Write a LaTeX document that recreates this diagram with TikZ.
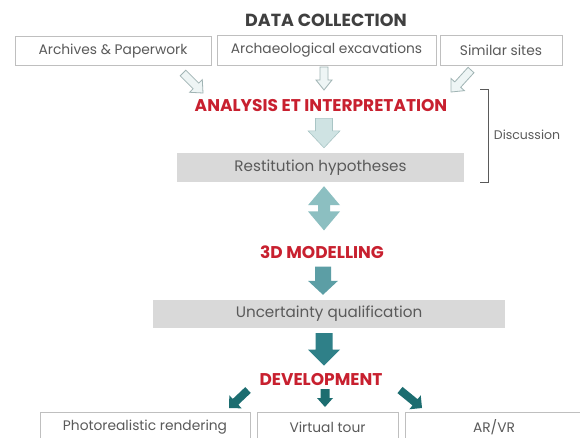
\documentclass[tikz,border=0pt]{standalone}
\usepackage{fontspec}
\setmainfont{Poppins}
\usetikzlibrary{calc}
\definecolor{boxline}{HTML}{BFBFBF}
\definecolor{boxtext}{HTML}{5A5A5A}
\definecolor{titletext}{HTML}{404040}
\definecolor{headred}{HTML}{C8202F}
\definecolor{grayfill}{HTML}{D9D9D9}
\definecolor{hollowfill}{HTML}{EEF5F5}
\definecolor{hollowline}{HTML}{A0B4B4}
\definecolor{tealA}{HTML}{CFE3E3}
\definecolor{tealAline}{HTML}{A9C5C5}
\definecolor{tealB}{HTML}{8CBFC1}
\definecolor{tealC}{HTML}{5C9EA5}
\definecolor{tealD}{HTML}{2F8088}
\definecolor{tealE}{HTML}{1C6D70}
\newcommand\blockarrow[6]{% style, from, to, shaft half width, head half width, head length
  \path ($(#3)!#6!(#2)$) coordinate (ba-n);
  \draw[#1] ($(#2)!#4!90:(#3)$) -- ($(ba-n)!#4!90:(#3)$) -- ($(ba-n)!#5!90:(#3)$)
    -- (#3) -- ($(ba-n)!#5!-90:(#3)$) -- ($(ba-n)!#4!-90:(#3)$) -- ($(#2)!#4!-90:(#3)$) -- cycle;
}
\newcommand\doublearrow[6]{% style, end a, end b, shaft half width, head half width, head length
  \path ($(#3)!#6!(#2)$) coordinate (da-n);
  \path ($(#2)!#6!(#3)$) coordinate (da-m);
  \draw[#1] (#2) -- ($(da-m)!#5!90:(#3)$) -- ($(da-m)!#4!90:(#3)$) -- ($(da-n)!#4!90:(#3)$) -- ($(da-n)!#5!90:(#3)$)
    -- (#3) -- ($(da-n)!#5!-90:(#3)$) -- ($(da-n)!#4!-90:(#3)$) -- ($(da-m)!#4!-90:(#3)$) -- ($(da-m)!#5!-90:(#3)$) -- cycle;
}
\begin{document}
\begin{tikzpicture}[x=1pt,y=-1pt,
  srcbox/.style={draw=boxline, line width=0.8pt, text=boxtext, font=\fontsize{13.8}{15}\selectfont, inner sep=0pt},
  graybox/.style={fill=grayfill, text=boxtext, font=\fontsize{15.2}{17}\selectfont, inner sep=0pt},
  heading/.style={text=headred, font=\bfseries\fontsize{17}{19}\selectfont, inner sep=0pt},
  hollow/.style={fill=hollowfill, draw=hollowline, line width=0.8pt, line join=miter},
  darkarrow/.style={fill=tealE, draw=none}]
\useasboundingbox (0,0) rectangle (580,437);
\fill[white] (0,0) rectangle (580,437);
% title
\node[text=titletext, font=\bfseries\fontsize{17.5}{19}\selectfont, inner sep=0pt] (title) at (326,20) {DATA COLLECTION};
% sources
\node[srcbox, minimum width=196pt, minimum height=29pt] (src1) at (113,51) {Archives \& Paperwork};
\node[srcbox, minimum width=219pt, minimum height=30pt] (src2) at (326.5,50) {Archaeological excavations};
\node[srcbox, minimum width=122pt, minimum height=30pt] (src3) at (501,50) {Similar sites};
% analysis
\node[heading] (ana) at (321,106) {ANALYSIS ET INTERPRETATION};
\node[graybox, minimum width=287pt, minimum height=29pt] (rest) at (320.5,167.5) {Restitution hypotheses};
% discussion bracket
\node[text=boxtext, font=\fontsize{12.5}{14}\selectfont, inner sep=0pt] (disc) at (527,135) {Discussion};
\draw[boxtext, line width=0.8pt] (480,89) -- (488,89) -- (488,182) -- (480,182);
% modelling
\node[heading] (mod) at (322,252) {3D MODELLING};
\node[graybox, minimum width=352pt, minimum height=28pt] (unc) at (329,314) {Uncertainty qualification};
\node[heading] (dev) at (321,379) {DEVELOPMENT};
% outputs
\node[srcbox, minimum width=210pt, minimum height=30pt] (out1) at (145,427) {Photorealistic rendering};
\node[srcbox, minimum width=141pt, minimum height=30pt] (out2) at (327.5,427) {Virtual tour};
\node[srcbox, minimum width=178pt, minimum height=30pt, text width=178pt, align=center] (out3) at (494,427) {AR/VR};
% hollow arrows from sources
\coordinate (h1a) at (183,73); \coordinate (h1b) at (203,93);
\coordinate (h2a) at (324,67); \coordinate (h2b) at (324,90);
\coordinate (h3a) at (471,70); \coordinate (h3b) at (451,92);
\blockarrow{hollow}{h1a}{h1b}{4pt}{9pt}{10pt}
\blockarrow{hollow}{h2a}{h2b}{4pt}{8pt}{10pt}
\blockarrow{hollow}{h3a}{h3b}{4pt}{9pt}{10pt}
% main flow arrows
\blockarrow{fill=tealA, draw=tealAline, line width=0.6pt}{$(ana.south)+(3,6)$}{$(rest.north)+(3.5,-5)$}{8.5pt}{16pt}{17pt}
\doublearrow{fill=tealB, draw=none}{$(rest.south)+(3.5,4)$}{$(mod.north)+(2,-15)$}{6pt}{16pt}{19pt}
\blockarrow{fill=tealC, draw=none}{$(mod.south)+(1,8)$}{$(unc.north)+(-6,-5)$}{8pt}{15pt}{14pt}
\blockarrow{fill=tealD, draw=none}{$(unc.south)+(-5,5)$}{$(dev.north)+(3,-7)$}{8.5pt}{16pt}{16pt}
% development arrows
\coordinate (d1a) at (248,390); \coordinate (d1b) at (229,408);
\coordinate (d2a) at (325,389); \coordinate (d2b) at (325,407);
\coordinate (d3a) at (400,390); \coordinate (d3b) at (422,408);
\blockarrow{darkarrow}{d1a}{d1b}{4pt}{9pt}{9pt}
\blockarrow{darkarrow}{d2a}{d2b}{4.5pt}{8pt}{9pt}
\blockarrow{darkarrow}{d3a}{d3b}{4pt}{9pt}{9pt}
\end{tikzpicture}
\end{document}
